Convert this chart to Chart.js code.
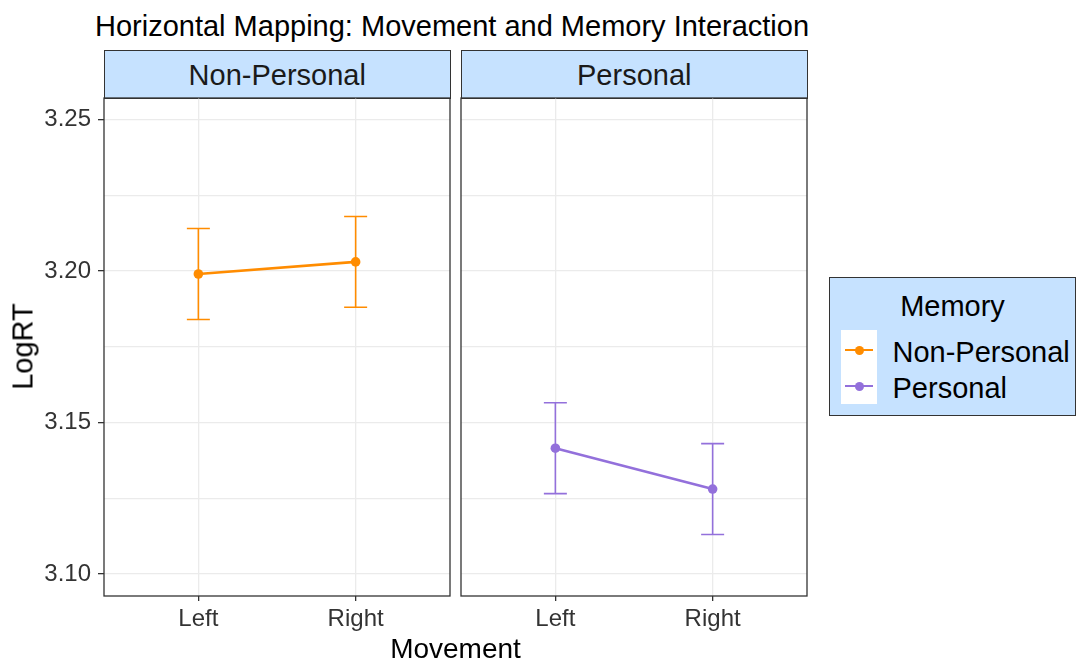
<!DOCTYPE html>
<html>
<head>
<meta charset="utf-8">
<script src="https://cdn.jsdelivr.net/npm/chart.js@4/dist/chart.umd.min.js"></script>
<style>
  html, body { margin: 0; padding: 0; background: #ffffff; }
  body { width: 1076px; height: 664px; position: relative; overflow: hidden;
         font-family: "Liberation Sans", Arial, sans-serif; color: #000; }
  .abs { position: absolute; white-space: nowrap; }
  canvas { position: absolute; }
  .strip { position: absolute; box-sizing: border-box; background: #C6E2FF;
           border: 1.3px solid #333333; text-align: center; font-size: 29px;
           line-height: 46px; color: #1A1A1A; padding-top: 1px; }
  .legend { position: absolute; box-sizing: border-box; background: #C6E2FF;
            border: 1.3px solid #333333; }
  .keybg { position: absolute; background: #ffffff; }
  .keyline { position: absolute; height: 2.6px; }
  .keydot { position: absolute; width: 9px; height: 9px; border-radius: 50%; }
</style>
</head>
<body>

<div class="abs" id="title" style="left:95px; top:11.5px; font-size:29px; line-height:29px;"></div>

<div class="strip" id="strip1" style="left:103.5px; top:50px; width:347.5px; height:49px;"></div>
<div class="strip" id="strip2" style="left:460.5px; top:50px; width:347.5px; height:49px;"></div>

<canvas id="panel1" width="460" height="574" style="left:0px; top:90px; width:460px; height:574px;"></canvas>
<canvas id="panel2" width="362" height="574" style="left:455px; top:90px; width:362px; height:574px;"></canvas>

<div class="abs" id="ytitle" style="left:-77px; top:331.5px; width:200px; height:29px; font-size:29px; line-height:29px; text-align:center; transform:rotate(-90deg);"></div>
<div class="abs" id="xtitle" style="left:355.5px; top:635.3px; width:200px; font-size:28px; line-height:28px; text-align:center;"></div>

<div class="legend" style="left:829px; top:277px; width:247px; height:139px;"></div>
<div class="abs" id="legtitle" style="left:829px; top:292.2px; width:247px; text-align:center; font-size:29px; line-height:29px;"></div>
<div class="keybg" style="left:841px; top:330px; width:36px; height:74px;"></div>
<div id="legendItems"></div>

<script>
// ---- data ----
const movements = ['Left', 'Right'];
const memoryGroups = ['Non-Personal', 'Personal'];
const nonPersonalMean = [3.199, 3.203];
const nonPersonalSE = [0.015, 0.015];
const personalMean = [3.1415, 3.128];
const personalSE = [0.015, 0.015];
const yTickValues = [3.10, 3.125, 3.15, 3.175, 3.20, 3.225, 3.25];

const groupColors = ['#FF8C00', '#9370DB'];
const FONT = '"Liberation Sans", Arial, sans-serif';

// ---- text ----
document.getElementById('title').textContent = 'Horizontal Mapping: Movement and Memory Interaction';
document.getElementById('strip1').textContent = memoryGroups[0];
document.getElementById('strip2').textContent = memoryGroups[1];
document.getElementById('ytitle').textContent = 'LogRT';
document.getElementById('xtitle').textContent = 'Movement';
document.getElementById('legtitle').textContent = 'Memory';

// legend rows
const legendWrap = document.getElementById('legendItems');
memoryGroups.forEach((name, i) => {
  const cy = 350 + i * 36;
  const line = document.createElement('div');
  line.className = 'keyline';
  line.style.cssText = `left:845px; top:${cy - 1.3}px; width:28px; background:${groupColors[i]};`;
  const dot = document.createElement('div');
  dot.className = 'keydot';
  dot.style.cssText = `left:${859 - 4.5}px; top:${cy - 4.5}px; background:${groupColors[i]};`;
  const lab = document.createElement('div');
  lab.className = 'abs';
  lab.style.cssText = `left:892.5px; top:${cy + 12.3 - 24.5}px; font-size:29px; line-height:29px;`;
  lab.textContent = name;
  legendWrap.appendChild(line);
  legendWrap.appendChild(dot);
  legendWrap.appendChild(lab);
});

// ---- chart helpers ----
const isMajor = v => Math.abs(Math.round(v / 0.05) * 0.05 - v) < 1e-6;

// error bars (mean ± SE) drawn beneath the line and points
const errorBars = {
  id: 'errorBars',
  beforeDatasetsDraw(chart) {
    const ctx = chart.ctx;
    const ys = chart.scales.y;
    chart.data.datasets.forEach((ds, di) => {
      const meta = chart.getDatasetMeta(di);
      ctx.save();
      ctx.strokeStyle = ds.borderColor;
      ctx.lineWidth = 1.6;
      meta.data.forEach((pt, i) => {
        const m = ds.data[i].y, se = ds.se[i];
        const yHi = ys.getPixelForValue(m + se);
        const yLo = ys.getPixelForValue(m - se);
        const x = pt.x, w = 11.5;
        ctx.beginPath();
        ctx.moveTo(x, yHi); ctx.lineTo(x, yLo);
        ctx.moveTo(x - w, yHi); ctx.lineTo(x + w, yHi);
        ctx.moveTo(x - w, yLo); ctx.lineTo(x + w, yLo);
        ctx.stroke();
      });
      ctx.restore();
    });
  }
};

// panel frame
const panelBorder = {
  id: 'panelBorder',
  afterDraw(chart) {
    const a = chart.chartArea, ctx = chart.ctx;
    ctx.save();
    ctx.strokeStyle = '#333333';
    ctx.lineWidth = 1.3;
    ctx.strokeRect(a.left, a.top, a.right - a.left, a.bottom - a.top);
    ctx.restore();
  }
};

function makePanel(canvasId, means, ses, color, showYLabels, padding) {
  const ctx = document.getElementById(canvasId).getContext('2d');
  return new Chart(ctx, {
    type: 'line',
    data: {
      datasets: [{
        data: means.map((m, i) => ({ x: i, y: m })),
        se: ses,
        borderColor: color,
        backgroundColor: color,
        pointBackgroundColor: color,
        borderWidth: 2.6,
        pointRadius: 4.8,
        pointBorderWidth: 0,
        tension: 0,
        clip: false
      }]
    },
    options: {
      responsive: false,
      animation: false,
      events: [],
      layout: { padding: padding },
      plugins: { legend: { display: false }, tooltip: { enabled: false } },
      scales: {
        x: {
          type: 'linear',
          min: -0.6, max: 1.6,
          afterBuildTicks: s => { s.ticks = movements.map((_, i) => ({ value: i })); },
          afterFit: s => { s.height = 68; s.paddingLeft = 0; s.paddingRight = 0; },
          border: { display: false },
          grid: { color: '#EBEBEB', lineWidth: 1.3, tickLength: 5, tickColor: '#333333', tickWidth: 1.3 },
          ticks: {
            callback: v => movements[v] ?? '',
            font: { family: FONT, size: 24 },
            color: '#333333',
            padding: 4,
            maxRotation: 0, autoSkip: false
          }
        },
        y: {
          min: 3.0927, max: 3.2571,
          afterBuildTicks: s => { s.ticks = yTickValues.map(v => ({ value: v })); },
          afterFit: s => { s.width = showYLabels ? 104 : 0; s.paddingTop = 0; s.paddingBottom = 0; },
          border: { display: false },
          grid: {
            color: '#EBEBEB', lineWidth: 1.3,
            drawTicks: showYLabels, tickLength: 6, tickWidth: 1.3,
            tickColor: c => isMajor(c.tick.value) ? '#333333' : 'rgba(0,0,0,0)'
          },
          ticks: {
            display: showYLabels,
            callback: v => isMajor(v) ? v.toFixed(2) : '',
            font: { family: FONT, size: 24 },
            color: '#333333',
            padding: 7,
            autoSkip: false
          }
        }
      }
    },
    plugins: [errorBars, panelBorder]
  });
}

makePanel('panel1', nonPersonalMean, nonPersonalSE, groupColors[0], true,
  { top: 8, right: 10, left: 0, bottom: 0 });
makePanel('panel2', personalMean, personalSE, groupColors[1], false,
  { top: 8, right: 10, left: 6, bottom: 0 });
</script>
</body>
</html>
